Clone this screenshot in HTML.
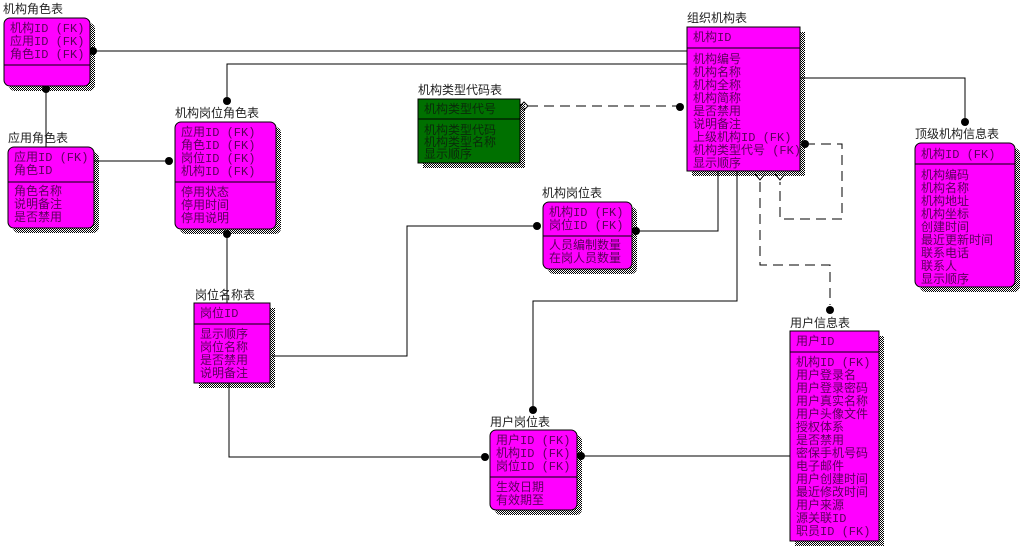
<!DOCTYPE html>
<html><head><meta charset="utf-8"><style>
html,body{margin:0;padding:0;background:#fff;width:1022px;height:547px;overflow:hidden}
svg{display:block}
text{font-family:"Liberation Mono","Noto Sans CJK SC",monospace;font-size:12px}
.t{fill:#222}
.m{fill:#5a005a}
.g{fill:#0a2a0a}
.e{fill:#ff00ff;stroke:#000;stroke-width:1}
.gr{fill:#007000;stroke:#000;stroke-width:1}
.l{stroke:#000;stroke-width:1;fill:none}
.d{stroke:#000;stroke-width:1;fill:none;stroke-dasharray:10,6}
</style></head><body>
<svg width="1022" height="547" viewBox="0 0 1022 547" xmlns="http://www.w3.org/2000/svg">
<defs>
<pattern id="h" width="2" height="2" patternUnits="userSpaceOnUse"><rect width="1" height="1" fill="#000"/><rect x="1" y="1" width="1" height="1" fill="#000"/></pattern>
</defs>
<!-- connectors -->
<path class="l" d="M93 51H687"/>
<path class="l" d="M46 89V147"/>
<path class="l" d="M94 161H169"/>
<path class="l" d="M227 101V64H687"/>
<path class="l" d="M227 234V303"/>
<path class="l" d="M800 78H965V122"/>
<path class="l" d="M718 171V231H636"/>
<path class="l" d="M737 171V301H533V410"/>
<path class="l" d="M537 226H407V356H272"/>
<path class="l" d="M229 383V457H485"/>
<path class="l" d="M581 456H790"/>
<path class="d" d="M528 106H680"/>
<path class="d" d="M805 144H842V219H780V182"/>
<path class="d" d="M760 182V265H830V305"/>
<!-- dots -->
<g fill="#000">
<circle cx="93" cy="51" r="4"/><circle cx="46" cy="89" r="4"/><circle cx="169" cy="161" r="4"/>
<circle cx="227" cy="101" r="4"/><circle cx="227" cy="234" r="4"/><circle cx="680" cy="107" r="4"/>
<circle cx="805" cy="144" r="4"/><circle cx="965" cy="122" r="4"/><circle cx="830" cy="310" r="4"/>
<circle cx="636" cy="231" r="4"/><circle cx="537" cy="226" r="4"/><circle cx="533" cy="410" r="4"/>
<circle cx="485" cy="457" r="4"/><circle cx="581" cy="456" r="4"/>
</g>
<path d="M520 106L524 102L528 106L524 110Z" fill="#fff" stroke="#000"/>
<path d="M755 174L760 180L765 174" fill="#fff" stroke="#000"/>
<path d="M775 174L780 180L785 174" fill="#fff" stroke="#000"/>

<!-- 机构角色表 -->
<text class="t" x="3" y="13">机构角色表</text>
<rect x="9" y="23" width="86" height="68" rx="6" fill="url(#h)"/>
<rect class="e" x="4" y="18" width="86" height="68" rx="6"/>
<path class="l" d="M4 65H90"/>
<text class="m" x="10" y="32">机构ID (FK)</text><text class="m" x="10" y="45">应用ID (FK)</text><text class="m" x="10" y="58">角色ID (FK)</text>

<!-- 应用角色表 -->
<text class="t" x="8" y="142">应用角色表</text>
<rect x="13" y="152" width="86" height="81" rx="6" fill="url(#h)"/>
<rect class="e" x="8" y="147" width="86" height="81" rx="6"/>
<path class="l" d="M8 182H94"/>
<text class="m" x="14" y="161">应用ID (FK)</text><text class="m" x="14" y="174">角色ID</text>
<text class="m" x="14" y="195">角色名称</text><text class="m" x="14" y="208">说明备注</text><text class="m" x="14" y="221">是否禁用</text>

<!-- 机构岗位角色表 -->
<text class="t" x="175" y="117">机构岗位角色表</text>
<rect x="180" y="127" width="101" height="107" rx="6" fill="url(#h)"/>
<rect class="e" x="175" y="122" width="101" height="107" rx="6"/>
<path class="l" d="M175 182H276"/>
<text class="m" x="181" y="136">应用ID (FK)</text><text class="m" x="181" y="149">角色ID (FK)</text><text class="m" x="181" y="162">岗位ID (FK)</text><text class="m" x="181" y="175">机构ID (FK)</text>
<text class="m" x="181" y="196">停用状态</text><text class="m" x="181" y="209">停用时间</text><text class="m" x="181" y="222">停用说明</text>

<!-- 组织机构表 -->
<text class="t" x="687" y="22">组织机构表</text>
<rect x="692" y="32" width="113" height="144" fill="url(#h)"/>
<rect class="e" x="687" y="27" width="113" height="144"/>
<path class="l" d="M687 48H800"/>
<text class="m" x="693" y="41">机构ID</text>
<text class="m" x="693" y="63">机构编号</text><text class="m" x="693" y="76">机构名称</text><text class="m" x="693" y="89">机构全称</text><text class="m" x="693" y="102">机构简称</text><text class="m" x="693" y="115">是否禁用</text><text class="m" x="693" y="128">说明备注</text><text class="m" x="693" y="141">上级机构ID (FK)</text><text class="m" x="693" y="154">机构类型代号 (FK)</text><text class="m" x="693" y="167">显示顺序</text>

<!-- 机构类型代码表 -->
<text class="t" x="418" y="94">机构类型代码表</text>
<rect x="423" y="104" width="102" height="64" fill="url(#h)"/>
<rect class="gr" x="418" y="99" width="102" height="64"/>
<path class="l" d="M418 119H520"/>
<text class="g" x="424" y="113">机构类型代号</text>
<text class="g" x="424" y="134">机构类型代码</text><text class="g" x="424" y="146">机构类型名称</text><text class="g" x="424" y="158">显示顺序</text>

<!-- 顶级机构信息表 -->
<text class="t" x="915" y="138">顶级机构信息表</text>
<rect x="920" y="148" width="100" height="144" rx="6" fill="url(#h)"/>
<rect class="e" x="915" y="143" width="100" height="144" rx="6"/>
<path class="l" d="M915 164H1015"/>
<text class="m" x="921" y="158">机构ID (FK)</text>
<text class="m" x="921" y="179">机构编码</text><text class="m" x="921" y="192">机构名称</text><text class="m" x="921" y="205">机构地址</text><text class="m" x="921" y="218">机构坐标</text><text class="m" x="921" y="231">创建时间</text><text class="m" x="921" y="244">最近更新时间</text><text class="m" x="921" y="257">联系电话</text><text class="m" x="921" y="270">联系人</text><text class="m" x="921" y="283">显示顺序</text>

<!-- 机构岗位表 -->
<text class="t" x="542" y="197">机构岗位表</text>
<rect x="548" y="207" width="89" height="67" rx="6" fill="url(#h)"/>
<rect class="e" x="543" y="202" width="89" height="67" rx="6"/>
<path class="l" d="M543 236H632"/>
<text class="m" x="549" y="216">机构ID (FK)</text><text class="m" x="549" y="229">岗位ID (FK)</text>
<text class="m" x="549" y="249">人员编制数量</text><text class="m" x="549" y="262">在岗人员数量</text>

<!-- 岗位名称表 -->
<text class="t" x="195" y="299">岗位名称表</text>
<rect x="199" y="308" width="76" height="80" fill="url(#h)"/>
<rect class="e" x="194" y="303" width="76" height="80"/>
<path class="l" d="M194 324H270"/>
<text class="m" x="200" y="317">岗位ID</text>
<text class="m" x="200" y="338">显示顺序</text><text class="m" x="200" y="351">岗位名称</text><text class="m" x="200" y="364">是否禁用</text><text class="m" x="200" y="377">说明备注</text>

<!-- 用户岗位表 -->
<text class="t" x="490" y="426">用户岗位表</text>
<rect x="495" y="435" width="87" height="80" rx="6" fill="url(#h)"/>
<rect class="e" x="490" y="430" width="87" height="80" rx="6"/>
<path class="l" d="M490 477H577"/>
<text class="m" x="496" y="444">用户ID (FK)</text><text class="m" x="496" y="457">机构ID (FK)</text><text class="m" x="496" y="470">岗位ID (FK)</text>
<text class="m" x="496" y="491">生效日期</text><text class="m" x="496" y="504">有效期至</text>

<!-- 用户信息表 -->
<text class="t" x="790" y="327">用户信息表</text>
<rect x="795" y="336" width="89" height="210" fill="url(#h)"/>
<rect class="e" x="790" y="331" width="89" height="210"/>
<path class="l" d="M790 352H879"/>
<text class="m" x="796" y="345">用户ID</text>
<text class="m" x="796" y="366">机构ID (FK)</text><text class="m" x="796" y="379">用户登录名</text><text class="m" x="796" y="392">用户登录密码</text><text class="m" x="796" y="405">用户真实名称</text><text class="m" x="796" y="418">用户头像文件</text><text class="m" x="796" y="431">授权体系</text><text class="m" x="796" y="444">是否禁用</text><text class="m" x="796" y="457">密保手机号码</text><text class="m" x="796" y="470">电子邮件</text><text class="m" x="796" y="483">用户创建时间</text><text class="m" x="796" y="496">最近修改时间</text><text class="m" x="796" y="509">用户来源</text><text class="m" x="796" y="522">源关联ID</text><text class="m" x="796" y="535">职员ID (FK)</text>
</svg>
</body></html>
